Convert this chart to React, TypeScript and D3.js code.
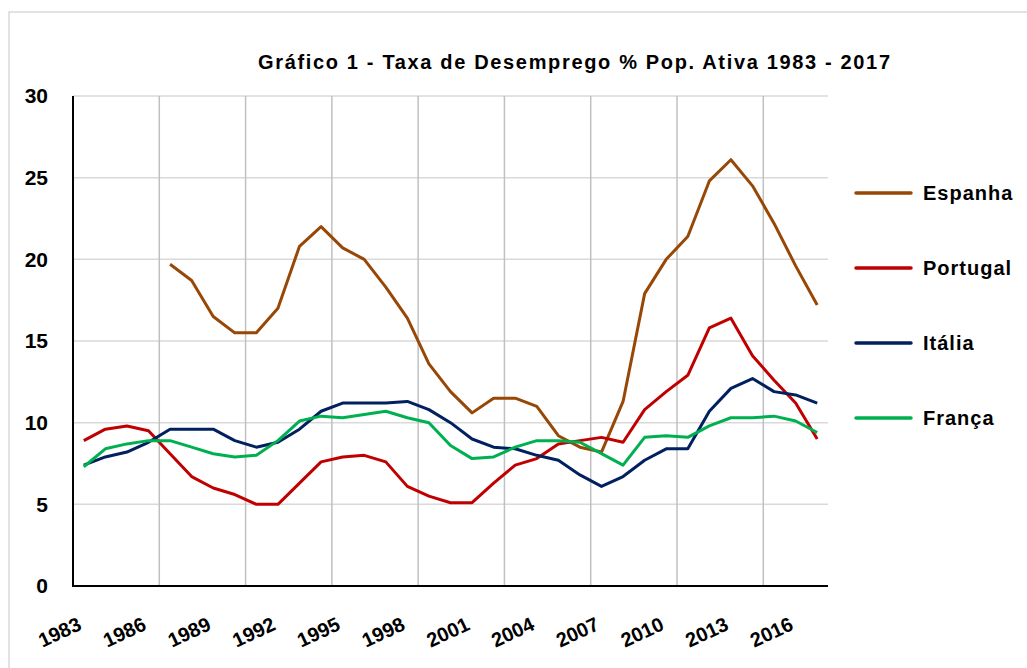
import React from "react";
import * as d3 from "d3";

// anos 1983 - 2017
const years = d3.range(1983, 2018);
const yTicks = [0, 5, 10, 15, 20, 25, 30];
const xLabelYears = [1983, 1986, 1989, 1992, 1995, 1998, 2001, 2004, 2007, 2010, 2013, 2016];

// Espanha so tem dados a partir de 1987
const espanha = [null, null, null, null, 19.7, 18.7, 16.5, 15.5, 15.5, 17.0, 20.8, 22.0, 20.7, 20.0, 18.3, 16.4, 13.6, 11.9, 10.6, 11.5, 11.5, 11.0, 9.2, 8.5, 8.2, 11.3, 17.9, 20.0, 21.4, 24.8, 26.1, 24.5, 22.2, 19.6, 17.2];
const portugal = [8.9, 9.6, 9.8, 9.5, 8.1, 6.7, 6.0, 5.6, 5.0, 5.0, 6.3, 7.6, 7.9, 8.0, 7.6, 6.1, 5.5, 5.1, 5.1, 6.3, 7.4, 7.8, 8.7, 8.9, 9.1, 8.8, 10.8, 11.9, 12.9, 15.8, 16.4, 14.1, 12.6, 11.2, 9.0];
const italia = [7.4, 7.9, 8.2, 8.8, 9.6, 9.6, 9.6, 8.9, 8.5, 8.8, 9.6, 10.7, 11.2, 11.2, 11.2, 11.3, 10.8, 10.0, 9.0, 8.5, 8.4, 8.0, 7.7, 6.8, 6.1, 6.7, 7.7, 8.4, 8.4, 10.7, 12.1, 12.7, 11.9, 11.7, 11.2];
const franca = [7.3, 8.4, 8.7, 8.9, 8.9, 8.5, 8.1, 7.9, 8.0, 8.9, 10.1, 10.4, 10.3, 10.5, 10.7, 10.3, 10.0, 8.6, 7.8, 7.9, 8.5, 8.9, 8.9, 8.8, 8.1, 7.4, 9.1, 9.2, 9.1, 9.8, 10.3, 10.3, 10.4, 10.1, 9.4];

const series = [
  { name: "Espanha", values: espanha, color: "#974706" },
  { name: "Portugal", values: portugal, color: "#c00000" },
  { name: "Itália", values: italia, color: "#002060" },
  { name: "França", values: franca, color: "#00b050" },
];

const W = 1027, H = 668;
const left = 73, right = 828, top = 96, bottom = 586;
const font = "'Liberation Sans', Arial, sans-serif";

export default function App() {
  const x = d3.scaleBand<number>().domain(years).range([left, right]).padding(0);
  const bw = x.bandwidth();
  const cx = (yr: number) => (x(yr) as number) + bw / 2;
  const y = d3.scaleLinear().domain([0, 30]).range([bottom, top]);

  const line = d3
    .line<number | null>()
    .defined((d) => d != null)
    .x((d, i) => cx(years[i]))
    .y((d) => y(d as number));

  // linhas verticais a cada 4 categorias
  const vGrid = years.filter((d, i) => i > 0 && i % 4 === 0).map((yr) => x(yr) as number);

  return (
    <svg width={W} height={H} style={{ position: "absolute", left: 0, top: 0 }} fontFamily={font}>
      <rect x={0} y={0} width={W} height={H} fill="#fff" />
      <rect x={9} y={12} width={W + 20} height={H + 20} fill="none" stroke="#d9d9d9" strokeWidth={1.5} />

      <text x={258} y={69} fontSize={20} fontWeight="bold" fill="#000" textLength={632} lengthAdjust="spacing">
        Gráfico 1 - Taxa de Desemprego % Pop. Ativa 1983 - 2017
      </text>

      {yTicks.filter((t) => t > 0).map((t) => (
        <line key={"h" + t} x1={left} x2={right} y1={y(t)} y2={y(t)} stroke="#d9d9d9" strokeWidth={1.5} />
      ))}
      {vGrid.map((gx) => (
        <line key={"v" + gx} x1={gx} x2={gx} y1={top} y2={bottom} stroke="#c0c0c0" strokeWidth={1.5} />
      ))}

      <line x1={left} x2={left} y1={top} y2={bottom + 1} stroke="#000" strokeWidth={2} />
      <line x1={left - 1} x2={right} y1={bottom} y2={bottom} stroke="#000" strokeWidth={2} />

      {yTicks.map((t) => (
        <text key={"yl" + t} x={48} y={y(t)} dy="0.35em" textAnchor="end" fontSize={21} fontWeight="bold">
          {t}
        </text>
      ))}

      {xLabelYears.map((yr) => (
        <text
          key={"xl" + yr}
          transform={`translate(${cx(yr) - 1},${bottom + 43}) rotate(-25)`}
          textAnchor="end"
          fontSize={20}
          fontWeight="bold"
        >
          {yr}
        </text>
      ))}

      {series.map((s) => (
        <path
          key={s.name}
          d={line(s.values) || ""}
          fill="none"
          stroke={s.color}
          strokeWidth={3}
          strokeLinejoin="round"
        />
      ))}

      {series.map((s, i) => {
        const ly = 193 + i * 75;
        return (
          <g key={"lg" + s.name}>
            <line x1={856} x2={911} y1={ly} y2={ly} stroke={s.color} strokeWidth={3.5} strokeLinecap="round" />
            <text x={923} y={ly} dy="0.35em" fontSize={20} fontWeight="bold" letterSpacing={1}>
              {s.name}
            </text>
          </g>
        );
      })}
    </svg>
  );
}
